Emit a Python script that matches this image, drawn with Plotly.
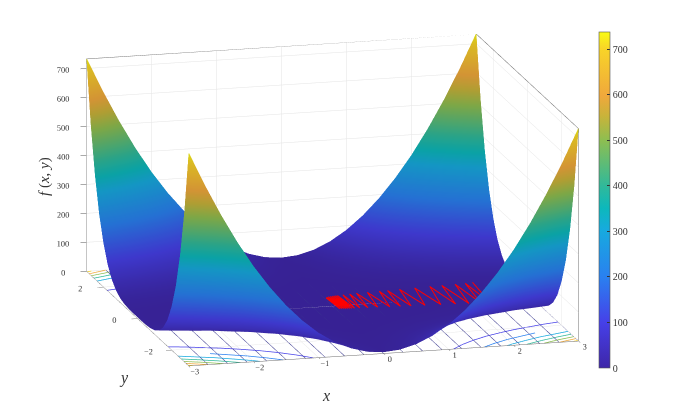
import numpy as np
import plotly.graph_objects as go
from plotly.colors import sample_colorscale

# values, one quadrant (|x|, |y|); the surface looks mirrored in both axes
abs_grid = [0, 0.25, 0.5, 0.75, 1, 1.25, 1.5, 1.75, 2, 2.25, 2.5, 2.75, 3]
z_quadrant = [
    [0, 0.03, 0.13, 0.28, 0.5, 0.78, 1.13, 1.53, 2, 2.53, 3.13, 3.78, 4.5],
    [0.03, 0.06, 0.16, 0.31, 0.53, 0.81, 1.16, 1.56, 2.03, 2.56, 3.16, 3.81, 4.53],
    [0.13, 0.16, 0.27, 0.44, 0.69, 1.0, 1.39, 1.85, 2.37, 2.96, 3.63, 4.36, 5.17],
    [0.28, 0.33, 0.49, 0.74, 1.1, 1.56, 2.13, 2.79, 3.56, 4.43, 5.41, 6.48, 7.66],
    [0.5, 0.59, 0.88, 1.34, 2, 2.84, 3.88, 5.09, 6.5, 8.09, 9.88, 11.84, 14],
    [0.78, 0.96, 1.52, 2.43, 3.72, 5.37, 7.4, 9.78, 12.5, 15.7, 19.2, 23, 27.2],
    [1.13, 1.48, 2.52, 4.26, 6.69, 9.82, 13.6, 18.2, 23.4, 29.3, 35.9, 43.2, 51.2],
    [1.53, 2.15, 4, 7.09, 11.4, 17, 23.8, 31.8, 41, 51.5, 63.3, 76.2, 90.4],
    [2, 3.03, 6.13, 11.3, 18.5, 27.8, 39.1, 52.5, 68, 85.5, 105, 127, 151],
    [2.53, 4.16, 9.05, 17.2, 28.6, 43.3, 61.3, 82.5, 107, 135, 166, 200, 237],
    [3.13, 5.6, 13, 25.4, 42.7, 65, 92.1, 124, 161, 203, 250, 302, 359],
    [3.78, 7.39, 18.2, 36.2, 61.5, 94, 134, 180, 235, 296, 364, 440, 523],
    [4.5, 9.59, 24.9, 50.3, 86, 132, 188, 254, 330, 417, 514, 621, 738],
]

# red search path, zigzag across the valley
path_x = [0, 0.03, 0.02, 0.06, 0.05, 0.09, 0.08, 0.12, 0.11, 0.15, 0.14, 0.18, 0.17, 0.21, 0.2,
          0.25, 0.29, 0.33, 0.4, 0.45, 0.51, 0.6, 0.68, 0.78, 0.87, 0.94, 1.0, 1.1, 1.19, 1.31,
          1.43, 1.55, 1.67, 1.77, 1.86, 1.97, 2.07, 2.15, 2.23, 2.29, 2.35]
path_y = [0.38, -0.32, 0.42, -0.32, 0.44, -0.32, 0.45, -0.33, 0.46, -0.33, 0.47, -0.33, 0.48, -0.34, 0.48,
          -0.34, 0.5, -0.35, 0.52, -0.36, 0.54, -0.37, 0.55, -0.39, 0.57, -0.4, 0.59, -0.42, 0.61, -0.43,
          0.63, -0.45, 0.66, -0.47, 0.68, -0.49, 0.7, -0.5, 0.72, -0.52, 0.75]

x_ticks = [-3, -2, -1, 0, 1, 2, 3]
y_ticks = [-2, 0, 2]
z_ticks = [0, 100, 200, 300, 400, 500, 600, 700]
floor_line_x = [-3, -2.7, -2.4, -2.1, -1.8, -1.5, -1.2, -0.9, -0.6, -0.3, 0, 0.3, 0.6, 0.9, 1.2, 1.5, 1.8, 2.1, 2.4, 2.7, 3]
contour_levels = [100, 200, 300, 400, 500, 600, 700]

Z_MAX = 738
PARULA = [
    [0, "#3e26a8"], [0.135, "#4640e8"], [0.27, "#2a80f0"], [0.41, "#17aadf"], [0.475, "#0cb8bc"],
    [0.54, "#2fb99b"], [0.68, "#8fbe50"], [0.75, "#c9b33a"], [0.81, "#f0a83c"], [0.95, "#f8d428"], [1, "#f9fb15"],
]
# the page sits 8px in from the window corner, paper positions below are corrected for it
PAGE_OFFSET = 8

grid = [-v for v in abs_grid[:0:-1]] + abs_grid
quad = np.array(z_quadrant)
z = np.block([[quad[::-1, ::-1][:-1, :-1], quad[::-1][:-1, :]], [quad[:, ::-1][:, :-1], quad]])


def level_segments(level):
    """marching squares over the z grid, returns x/y with None breaks"""
    xs, ys = [], []
    n = len(grid)
    for i in range(n - 1):
        for j in range(n - 1):
            pts = []
            corners = [(i, j), (i, j + 1), (i + 1, j + 1), (i + 1, j)]
            for k in range(4):
                a, b = corners[k], corners[(k + 1) % 4]
                za, zb = z[a], z[b]
                if (za - level) * (zb - level) < 0:
                    t = (level - za) / (zb - za)
                    pts.append((grid[a[1]] + t * (grid[b[1]] - grid[a[1]]), grid[a[0]] + t * (grid[b[0]] - grid[a[0]])))
            if len(pts) >= 2:
                xs += [pts[0][0], pts[1][0], None]
                ys += [pts[0][1], pts[1][1], None]
    return xs, ys


def paper_x(px):
    return (px - PAGE_OFFSET) / 687


def paper_y(px):
    return 1 - (px - PAGE_OFFSET) / 415


fig = go.Figure()

fig.add_trace(go.Surface(
    x=grid, y=grid, z=z, colorscale=PARULA, cmin=0, cmax=Z_MAX,
    lighting=dict(ambient=0.88, diffuse=0, specular=0, fresnel=0),
    hoverinfo="skip",
    colorbar=dict(
        thickness=11, len=336, lenmode="pixels", x=paper_x(599), xanchor="left", xpad=0, ypad=0,
        y=paper_y(368), yanchor="bottom", tickvals=z_ticks, ticks="inside", ticklen=3,
        tickcolor="#333333", outlinecolor="#555555", outlinewidth=0.6,
        tickfont=dict(family="Liberation Serif", size=10, color="#333333"),
    ),
))

# floor lines under the surface
line_x, line_y = [], []
for v in floor_line_x:
    line_x += [v, v, None]
    line_y += [-3, 3, None]
fig.add_trace(go.Scatter3d(
    x=line_x, y=line_y, z=[0 if v is not None else None for v in line_x], mode="lines",
    line=dict(color="#3b3a8f", width=1), hoverinfo="skip", showlegend=False,
))
for level in contour_levels:
    cx, cy = level_segments(level)
    colour = sample_colorscale(PARULA, level / Z_MAX)[0]
    fig.add_trace(go.Scatter3d(
        x=cx, y=cy, z=[0 if v is not None else None for v in cx], mode="lines",
        line=dict(color=colour, width=1.5), hoverinfo="skip", showlegend=False,
    ))

fig.add_trace(go.Scatter3d(
    x=path_x, y=path_y, z=[8] * len(path_x), mode="lines",
    line=dict(color="#ff0000", width=2), hoverinfo="skip", showlegend=False,
))

# box edges
box_x = [-3, -3, 3, 3, 3, None, -3, -3, 3]
box_y = [3, 3, 3, -3, -3, None, 3, -3, -3]
box_z = [0, 733, 733, 733, 0, None, 0, 0, 0]
fig.add_trace(go.Scatter3d(
    x=box_x, y=box_y, z=box_z, mode="lines",
    line=dict(color="#6e6e6e", width=1), hoverinfo="skip", showlegend=False,
))

tick_font = dict(family="Liberation Serif", size=10, color="#333333")
axis_style = dict(
    showgrid=True, gridcolor="#e4e4e4", gridwidth=1, showbackground=False, zeroline=False,
    showline=False, ticks="outside", ticklen=6, tickcolor="#555555", tickfont=tick_font, title=dict(text=""),
    showspikes=False, tickangle=0,
)

SCALE = 2.1
R = 5
fig.update_layout(
    width=687, height=415, margin=dict(l=0, r=0, t=0, b=0), paper_bgcolor="white", showlegend=False,
    scene=dict(
        domain=dict(x=[0, 649 / 687], y=[31 / 415, 1]),
        xaxis=dict(range=[-3, 3], tickvals=x_ticks, **axis_style),
        yaxis=dict(range=[-3, 3], tickvals=y_ticks, **axis_style),
        zaxis=dict(range=[0, 733], tickvals=z_ticks, **axis_style),
        aspectmode="manual", aspectratio=dict(x=SCALE, y=SCALE, z=0.543 * SCALE),
        camera=dict(
            projection=dict(type="orthographic"),
            eye=dict(x=-0.246 * R, y=-0.938 * R, z=0.2425 * R),
            up=dict(x=0, y=0, z=1), center=dict(x=0, y=0, z=0),
        ),
    ),
    annotations=[
        dict(text="<i>f</i> (<i>x</i>, <i>y</i>)", x=paper_x(44), y=paper_y(177), xref="paper", yref="paper",
             xanchor="center", yanchor="middle", showarrow=False, textangle=-90,
             font=dict(family="Liberation Serif", size=15, color="#333333")),
        dict(text="<i>y</i>", x=paper_x(124), y=paper_y(378), xref="paper", yref="paper",
             xanchor="center", yanchor="middle", showarrow=False,
             font=dict(family="Liberation Serif", size=16, color="#333333")),
        dict(text="<i>x</i>", x=paper_x(326), y=paper_y(395), xref="paper", yref="paper",
             xanchor="center", yanchor="middle", showarrow=False,
             font=dict(family="Liberation Serif", size=16, color="#333333")),
    ],
)

fig.write_html("out.html")
